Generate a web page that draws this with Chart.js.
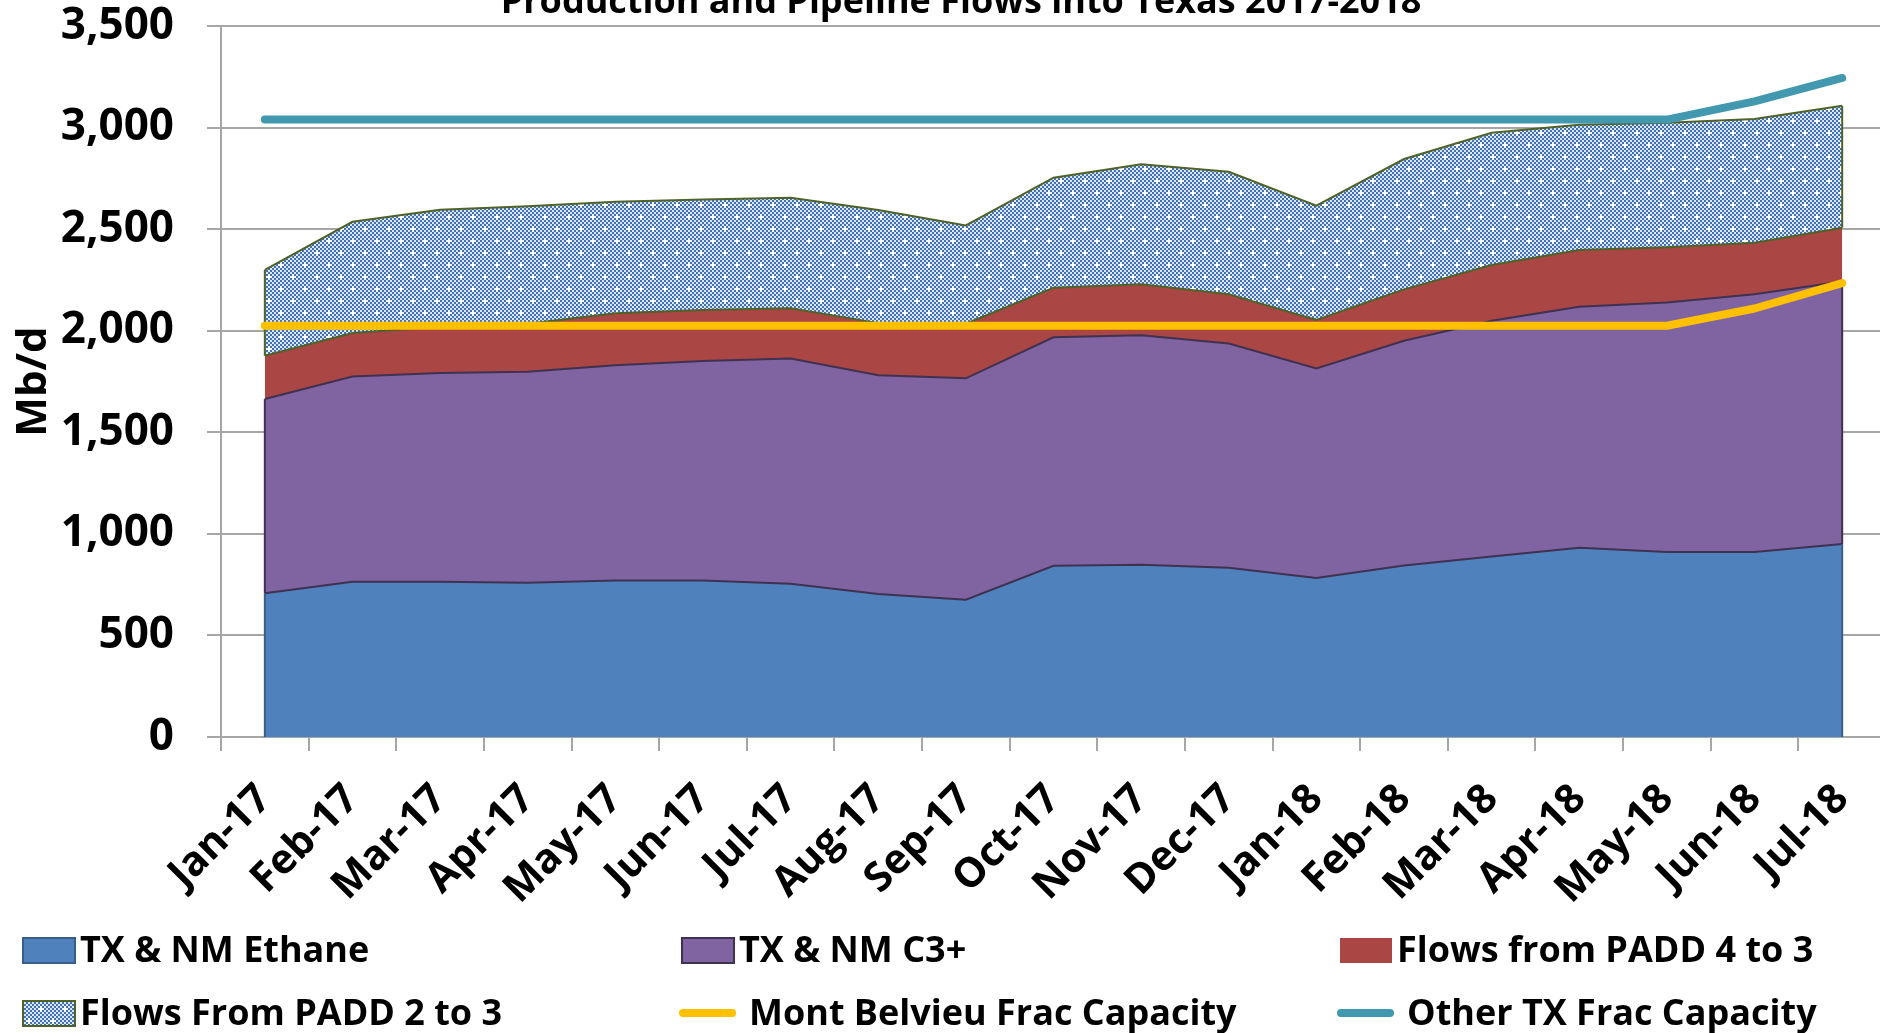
<!DOCTYPE html>
<html>
<head>
<meta charset="utf-8">
<title>Production and Pipeline Flows into Texas 2017-2018</title>
<script src="https://cdn.jsdelivr.net/npm/chart.js@4.4.1/dist/chart.umd.min.js"></script>
<style>
  html, body { margin: 0; padding: 0; background: #fff; overflow: hidden; }
  #wrap { position: absolute; left: 0; top: -40px; width: 1922px; height: 1073px; }
</style>
</head>
<body>
<div id="wrap"><canvas id="chart" width="1922" height="1073"></canvas></div>
<script>
var months = ['Jan-17', 'Feb-17', 'Mar-17', 'Apr-17', 'May-17', 'Jun-17', 'Jul-17', 'Aug-17', 'Sep-17',
  'Oct-17', 'Nov-17', 'Dec-17', 'Jan-18', 'Feb-18', 'Mar-18', 'Apr-18', 'May-18', 'Jun-18', 'Jul-18'];

// Mb/d, stacked areas
var ethane = [708, 765, 765, 760, 770, 771, 755, 704, 676, 843, 848, 833, 783, 845, 889, 932, 911, 911, 950];
var c3plus = [956, 1010, 1027, 1039, 1060, 1080, 1109, 1077, 1090, 1125, 1130, 1105, 1032, 1106, 1161, 1187, 1229, 1269, 1293];
var padd4 = [213, 214, 228, 236, 256, 251, 247, 257, 269, 244, 251, 242, 238, 253, 274, 279, 272, 254, 265];
var padd2 = [423, 548, 576, 579, 549, 545, 544, 557, 484, 542, 591, 603, 563, 642, 651, 617, 613, 609, 600];

// frac capacity lines (not stacked)
var montBelvieu = [2025, 2025, 2025, 2025, 2025, 2025, 2025, 2025, 2025, 2025, 2025, 2025, 2025, 2025, 2025, 2025, 2025, 2110, 2235];
var otherTx = [3040, 3040, 3040, 3040, 3040, 3040, 3040, 3040, 3040, 3040, 3040, 3040, 3040, 3040, 3040, 3040, 3040, 3130, 3245];

var SHIFT = 40;   // canvas px hidden above the window
var FONT = 'Open Sans';
var GRID = '#A6A6A6';

// blue checker with a few white crosses
function makeHatch() {
  var c = document.createElement('canvas');
  c.width = 24; c.height = 24;
  var g = c.getContext('2d');
  g.fillStyle = '#DDE6F3';
  g.fillRect(0, 0, 24, 24);
  for (var i = 0; i < 12; i++) {
    for (var j = 0; j < 12; j++) {
      var cross = (i === 2 && j === 2) || (i === 8 && j === 8);
      var near = (Math.abs(i - 2) + Math.abs(j - 2) === 1) || (Math.abs(i - 8) + Math.abs(j - 8) === 1);
      if (cross || near) {
        g.fillStyle = '#fff';
      } else if ((i + j) % 2 === 0) {
        g.fillStyle = '#4070B5';
      } else {
        continue;
      }
      g.fillRect(i * 2, j * 2, 2, 2);
    }
  }
  return g.createPattern(c, 'repeat');
}
var hatch = makeHatch();

var edgePlugin = {
  id: 'areaEdges',
  afterDatasetDraw: function(chart, args) {
    if (args.index !== 0) return;
    var ctx = chart.ctx;
    var colors = ['#385D8A', '#3F3151', null, '#4F6228'];
    var base0 = chart.scales.y.getPixelForValue(0);
    var last = months.length - 1;
    ctx.save();
    ctx.lineWidth = 2;
    [0, last].forEach(function(p) {
      var base = base0;
      for (var i = 0; i < 4; i++) {
        var pt = chart.getDatasetMeta(i).data[p];
        if (colors[i]) {
          ctx.strokeStyle = colors[i];
          ctx.beginPath();
          ctx.moveTo(pt.x, base);
          ctx.lineTo(pt.x, pt.y);
          ctx.stroke();
        }
        base = pt.y;
      }
    });
    ctx.restore();
  }
};

var legendPlugin = {
  id: 'gridLegend',
  afterDraw: function(chart) {
    var ctx = chart.ctx;
    var cols = [23, 682, 1340];
    var rows = [950 + SHIFT, 1013 + SHIFT];
    var edges = ['#385D8A', '#3F3151', null, '#4F6228'];
    ctx.save();
    ctx.font = 'bold 36px "' + FONT + '"';
    ctx.textBaseline = 'middle';
    chart.data.datasets.forEach(function(ds, i) {
      var x = cols[i % 3], y = rows[Math.floor(i / 3)];
      if (ds.fill === false) {
        ctx.strokeStyle = ds.borderColor;
        ctx.lineWidth = 8;
        ctx.lineCap = 'round';
        ctx.beginPath();
        ctx.moveTo(x + 1, y);
        ctx.lineTo(x + 50, y);
        ctx.stroke();
        ctx.fillStyle = '#000';
        ctx.fillText(ds.label, x + 67, y + 2);
      } else {
        ctx.fillStyle = ds.backgroundColor;
        ctx.fillRect(x, y - 12, 52, 25);
        if (edges[i]) {
          ctx.strokeStyle = edges[i];
          ctx.lineWidth = 2;
          ctx.strokeRect(x, y - 12, 52, 25);
        }
        ctx.fillStyle = '#000';
        ctx.fillText(ds.label, x + 57, y + 2);
      }
    });
    ctx.restore();
  }
};

function area(label, data, fill, bg, border) {
  return {
    label: label, data: data, fill: fill, backgroundColor: bg, borderColor: border,
    borderWidth: 2, pointRadius: 0, tension: 0, stack: 'flows', order: 1
  };
}
function capLine(label, data, color) {
  return {
    label: label, data: data, fill: false, borderColor: color, backgroundColor: color,
    borderWidth: 8, borderCapStyle: 'round', borderJoinStyle: 'round',
    pointRadius: 0, tension: 0, stack: label, order: 0
  };
}

new Chart(document.getElementById('chart'), {
  type: 'line',
  data: {
    labels: months,
    datasets: [
      area('TX & NM Ethane', ethane, 'origin', '#4F81BD', '#3F3151'),
      area('TX & NM C3+', c3plus, '-1', '#8064A2', '#3F3151'),
      area('Flows from PADD 4 to 3', padd4, '-1', '#AA4643', '#4F6228'),
      area('Flows From PADD 2 to 3', padd2, '-1', hatch, '#4F6228'),
      capLine('Mont Belvieu Frac Capacity', montBelvieu, '#FFC000'),
      capLine('Other TX Frac Capacity', otherTx, '#4198AF')
    ]
  },
  plugins: [edgePlugin, legendPlugin],
  options: {
    responsive: false,
    animation: false,
    layout: { padding: { left: 36, right: 36, top: 0, bottom: 0 } },
    plugins: {
      legend: { display: false },
      tooltip: { enabled: false },
      title: {
        display: true,
        text: 'Production and Pipeline Flows into Texas 2017-2018',
        color: '#000',
        font: { family: FONT, weight: 'bold', size: 36 },
        padding: { top: 21, bottom: 2 }
      }
    },
    scales: {
      x: {
        offset: true,
        grid: { offset: true, drawOnChartArea: false, drawTicks: true, tickLength: 14, color: GRID, lineWidth: 2 },
        border: { color: GRID, width: 2 },
        ticks: {
          color: '#000', autoSkip: false, minRotation: 45, maxRotation: 45, padding: 24,
          font: { family: FONT, weight: 'bold', size: 41 }
        },
        afterFit: function(s) { s.height = 1073 - (737 + SHIFT); }
      },
      y: {
        stacked: true,
        min: 0, max: 3500,
        grid: { color: GRID, lineWidth: 2, tickLength: 14 },
        border: { color: GRID, width: 2 },
        ticks: {
          stepSize: 500, color: '#000', padding: 33,
          font: { family: FONT, weight: 'bold', size: 44 }
        },
        title: {
          display: true, text: 'Mb/d', color: '#000',
          font: { family: FONT, weight: 'bold', size: 42 },
          padding: { top: -27, bottom: 0 }
        },
        afterFit: function(s) { s.width = 185; }
      }
    }
  }
});
</script>
</body>
</html>
